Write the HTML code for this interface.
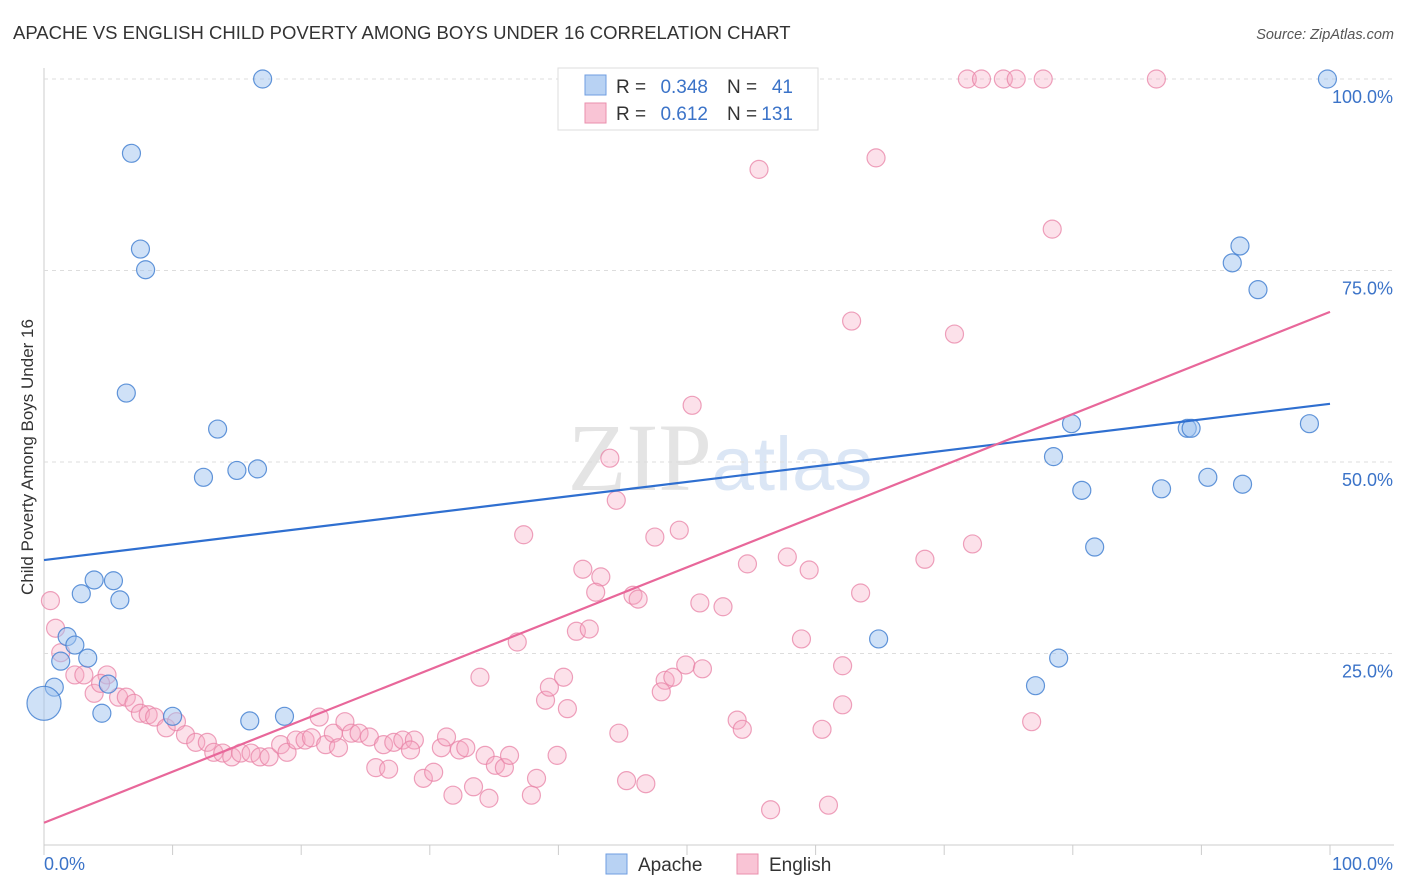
<!DOCTYPE html>
<html><head><meta charset="utf-8"><style>
body{margin:0;background:#fff;font-family:"Liberation Sans",sans-serif;}
</style></head><body>
<svg id="c" width="1406" height="892" xmlns="http://www.w3.org/2000/svg" style="display:block">
<text x="13" y="39" font-size="18.5" fill="#333" font-family="Liberation Sans, sans-serif">APACHE VS ENGLISH CHILD POVERTY AMONG BOYS UNDER 16 CORRELATION CHART</text>
<text x="1394" y="39" font-size="14.5" fill="#555" text-anchor="end" font-style="italic">Source: ZipAtlas.com</text>
<text x="720" y="490" font-size="96" text-anchor="middle" fill="#e4e4e4" font-family="Liberation Serif, serif">ZIP<tspan fill="#dbe6f5" font-family="Liberation Sans, sans-serif" font-size="76">atlas</tspan></text>
<text transform="translate(33,457) rotate(-90)" font-size="17" fill="#333" text-anchor="middle">Child Poverty Among Boys Under 16</text>
<g id="grid"></g><g id="pts"></g><g id="lines"></g>
<g>
<rect x="558" y="68" width="260" height="62" fill="#fff" stroke="#ddd"/>
<rect x="585" y="75" width="21" height="20" fill="#b8d2f3" stroke="#6f9ee0"/>
<text x="616" y="93" font-size="19" fill="#333">R =</text>
<text x="708" y="93" font-size="19" fill="#3b73c8" text-anchor="end">0.348</text>
<text x="727" y="93" font-size="19" fill="#333">N =</text>
<text x="793" y="93" font-size="19" fill="#3b73c8" text-anchor="end">41</text>
<rect x="585" y="103" width="21" height="20" fill="#f9c4d5" stroke="#ea8fad"/>
<text x="616" y="120" font-size="19" fill="#333">R =</text>
<text x="708" y="120" font-size="19" fill="#3b73c8" text-anchor="end">0.612</text>
<text x="727" y="120" font-size="19" fill="#333">N =</text>
<text x="793" y="120" font-size="19" fill="#3b73c8" text-anchor="end">131</text>
</g>
<g>
<rect x="606" y="854" width="21" height="20" fill="#b8d2f3" stroke="#6f9ee0"/>
<text x="638" y="871" font-size="19" fill="#333">Apache</text>
<rect x="737" y="854" width="21" height="20" fill="#f9c4d5" stroke="#ea8fad"/>
<text x="769" y="871" font-size="19" fill="#333">English</text>
</g>
</svg>
<script>
const yTicks=[25,50,75,100];
const xTickLabels=["0.0%","100.0%"];
const apacheX=[17.0,6.8,7.5,7.9,6.4,13.5,12.4,15.0,16.6,3.9,5.4,2.9,5.9,1.8,2.4,1.3,3.4,0.8,5.0,4.5,10.0,16.0,18.7,99.8,93.0,92.4,94.4,79.9,88.9,89.2,98.4,78.5,80.7,86.9,90.5,93.2,81.7,64.9,78.9,77.1];
const apacheY=[100,90.3,77.8,75.1,59.0,54.3,48.0,48.9,49.1,34.6,34.5,32.8,32.0,27.2,26.1,24.0,24.4,20.6,21.0,17.2,16.8,16.2,16.8,100,78.2,76.0,72.5,55.0,54.4,54.4,55.0,50.7,46.3,46.5,48.0,47.1,38.9,26.9,24.4,20.8];
const apacheBigX=[0];
const apacheBigY=[18.5];
const englishX=[71.8,72.9,74.6,75.6,77.7,86.5,58.5,64.7,55.6,78.4,62.8,70.8,50.4,44.0,44.5,37.3,47.5,49.4,41.9,43.3,42.9,45.8,46.2,51.0,52.8,54.7,57.8,59.5,68.5,72.2,63.5,36.8,41.4,42.4,58.9,62.1,48.3,48.9,49.9,51.2,48.0,62.1,53.9,54.3,60.5,76.8,44.7,0.5,0.9,
1.3,2.4,3.1,4.9,3.9,4.4,5.8,6.4,7.0,7.5,8.1,8.6,9.5,10.3,11.0,11.8,12.7,13.2,13.9,14.6,15.3,16.1,16.8,17.5,18.4,18.9,19.6,20.3,20.8,21.4,21.9,22.5,22.9,23.4,23.9,24.5,25.3,26.4,27.2,27.9,28.8,28.5,25.8,26.8,29.5,30.3,30.9,31.3,32.3,32.8,31.8,33.4,34.6,34.3,35.1,35.8,36.2,33.9,39.0,39.3,40.4,40.7,39.9,38.3,37.9,45.3,46.8,56.5,61.0];
const englishY=[100,100,100,100,100,100,100,89.7,88.2,80.4,68.4,66.7,57.4,50.5,45.0,40.5,40.2,41.1,36.0,35.0,33.0,32.6,32.1,31.6,31.1,36.7,37.6,35.9,37.3,39.3,32.9,26.5,27.9,28.2,26.9,23.4,21.5,21.9,23.5,23.0,20.0,18.3,16.3,15.1,15.1,16.1,14.6,31.9,28.3,
25.1,22.2,22.2,22.2,19.8,21.1,19.3,19.3,18.5,17.2,17.0,16.7,15.3,16.1,14.4,13.4,13.4,12.1,12.0,11.5,12.0,12.0,11.5,11.5,13.1,12.1,13.7,13.7,14.0,16.7,13.1,14.6,12.7,16.1,14.6,14.6,14.1,13.1,13.4,13.7,13.7,12.4,10.1,9.9,8.7,9.5,12.7,14.1,12.4,12.7,6.5,7.6,6.1,11.7,10.4,10.1,11.7,21.9,18.9,20.6,21.9,17.8,11.7,8.7,6.5,8.4,8.0,4.6,5.2];
const apacheLine=[37.2,57.6];
const englishLine=[2.9,69.6];
const X0=44,X1=1330,Y0=845,Y100=79;
const sx=v=>X0+(X1-X0)*v/100, sy=v=>Y0-(Y0-Y100)*v/100;
const NS="http://www.w3.org/2000/svg";
function mk(t,a,p){const e=document.createElementNS(NS,t);for(const k in a)e.setAttribute(k,a[k]);p.appendChild(e);return e;}
const grid=document.getElementById('grid');
mk('line',{x1:X0,y1:68,x2:X0,y2:Y0,stroke:'#ccc'},grid);
mk('line',{x1:X0,y1:Y0,x2:1394,y2:Y0,stroke:'#ccc'},grid);
for(let i=0;i<=10;i++){const t=mk('line',{x1:sx(i*10),y1:Y0,x2:sx(i*10),y2:Y0+10,stroke:'#ccc'},grid);

}
yTicks.forEach(v=>{const g=mk('line',{x1:X0,y1:sy(v),x2:1394,y2:sy(v),stroke:'#ddd','stroke-dasharray':'4,4'},grid);


const t=mk('text',{x:1393,y:sy(v)+24,'font-size':18,fill:'#3b73c8','text-anchor':'end'},grid);t.textContent=v.toFixed(1)+'%';

});
const xl=mk('text',{x:44,y:870,'font-size':18,fill:'#3b73c8'},grid);xl.textContent=xTickLabels[0];


const xr=mk('text',{x:1393,y:870,'font-size':18,fill:'#3b73c8','text-anchor':'end'},grid);xr.textContent=xTickLabels[1];


const pts=document.getElementById('pts');
englishX.forEach((x,i)=>{const c=mk('circle',{cx:sx(x),cy:sy(englishY[i]),r:9,fill:'rgba(246,170,196,0.35)',stroke:'rgba(232,130,165,0.75)','stroke-width':1.2},pts);

});
apacheX.forEach((x,i)=>{const c=mk('circle',{cx:sx(x),cy:sy(apacheY[i]),r:9,fill:'rgba(160,196,240,0.5)',stroke:'rgba(70,130,210,0.85)','stroke-width':1.2},pts);

});
apacheBigX.forEach((x,i)=>{const c=mk('circle',{cx:sx(x),cy:sy(apacheBigY[i]),r:17,fill:'rgba(160,196,240,0.5)',stroke:'rgba(70,130,210,0.85)','stroke-width':1.2},pts);

});
const L=document.getElementById('lines');
const a=mk('line',{x1:sx(0),y1:sy(apacheLine[0]),x2:sx(100),y2:sy(apacheLine[1]),stroke:'#2f6fd0','stroke-width':2.2},L);


const e=mk('line',{x1:sx(0),y1:sy(englishLine[0]),x2:sx(100),y2:sy(englishLine[1]),stroke:'#e8679a','stroke-width':2.2},L);


</script>
</body></html>
